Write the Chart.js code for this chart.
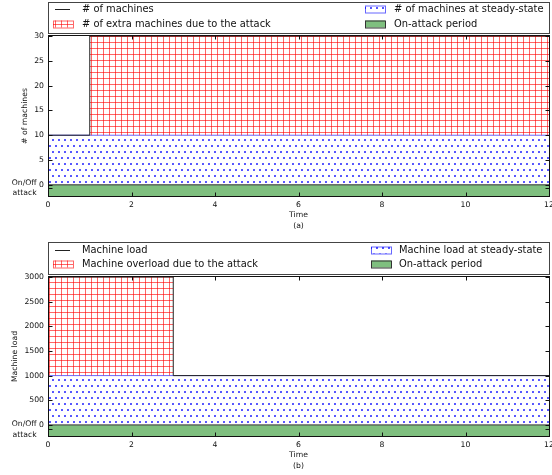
<!DOCTYPE html>
<html>
<head>
<meta charset="utf-8">
<script src="https://cdn.jsdelivr.net/npm/chart.js@4.4.0/dist/chart.umd.min.js"></script>
<style>
  html, body { margin: 0; padding: 0; background: #fff; overflow: hidden; }
  #wrap { position: relative; width: 552px; height: 475px; overflow: hidden; }
  canvas { position: absolute; left: 0; }
  #chartA { top: 0; }
  #chartB { top: 240px; }
</style>
</head>
<body>
<div id="wrap">
  <canvas id="chartA" width="580" height="240"></canvas>
  <canvas id="chartB" width="580" height="235"></canvas>
</div>
<script>
// shared x axis
const xTicks = [0, 2, 4, 6, 8, 10, 12];

// (a) number of machines
const machTime = [0, 1, 12];
const machCount = [10, 30, 30];
const extraTime = [1, 12];
const extraCount = [30, 30];
const extraBase = 10;
const steadyTime = [0, 12];
const steadyCount = [10, 10];
const machYTicks = [0, 5, 10, 15, 20, 25, 30];
const machAttackTick = -0.7;
const labelsA = ['# of machines', '# of extra machines due to the attack',
                 '# of machines at steady-state', 'On-attack period'];

// (b) machine load
const loadTime = [0, 3, 12];
const loadValue = [3000, 1000, 1000];
const overTime = [0, 3];
const overValue = [3000, 3000];
const overBase = 1000;
const steadyLoadTime = [0, 12];
const steadyLoad = [1000, 1000];
const loadYTicks = [0, 500, 1000, 1500, 2000, 2500, 3000];
const loadAttackTick = -90;
const labelsB = ['Machine load', 'Machine overload due to the attack',
                 'Machine load at steady-state', 'On-attack period'];

// attack on for the whole period
const attackTime = [0, 12];
const attackOn = [0, 0];

Chart.defaults.font.family = '"DejaVu Sans"';
const tickFont = { size: 7.7, lineHeight: 1.35 };
const titleFont = { size: 7.7, lineHeight: 1.4 };

function pts(xs, ys) {
  return xs.map((x, i) => ({ x: x, y: ys[i] }));
}

// hatch '+' in red
function gridPattern() {
  const c = document.createElement('canvas');
  c.width = 6; c.height = 6;
  const g = c.getContext('2d');
  g.strokeStyle = 'rgba(255,0,0,0.6)';
  g.lineWidth = 1;
  g.beginPath();
  g.moveTo(1.5, 0); g.lineTo(1.5, 6);
  g.moveTo(0, 0.5); g.lineTo(6, 0.5);
  g.stroke();
  return g.createPattern(c, 'repeat');
}

// hatch '.' in blue (staggered rows)
function dotPattern() {
  const c = document.createElement('canvas');
  c.width = 6; c.height = 12;
  const g = c.getContext('2d');
  g.fillStyle = '#1010ff';
  [[2, 2], [5, 8]].forEach(([x, y]) => {
    g.beginPath();
    g.arc(x, y, 0.95, 0, Math.PI * 2);
    g.fill();
  });
  return g.createPattern(c, 'repeat');
}

const redGrid = gridPattern();
const blueDots = dotPattern();

// frame + inward ticks on all four sides, like the matplotlib axes
const framePlugin = {
  id: 'frame',
  afterDatasetsDraw(chart) {
    const { ctx, chartArea: a, scales: { x, y } } = chart;
    const L = Math.round(a.left) + 0.5, R = Math.round(a.right) + 0.5;
    const T = Math.round(a.top) - 0.5, B = Math.round(a.bottom) + 0.5;
    ctx.save();
    ctx.strokeStyle = '#111';
    ctx.lineWidth = 1;
    ctx.beginPath();
    x.ticks.forEach(t => {
      const px = Math.round(x.getPixelForValue(t.value)) + 0.5;
      ctx.moveTo(px, T); ctx.lineTo(px, T + 4);
      ctx.moveTo(px, B); ctx.lineTo(px, B - 4);
    });
    y.ticks.forEach(t => {
      const py = Math.round(y.getPixelForValue(t.value)) + 0.5;
      ctx.moveTo(L, py); ctx.lineTo(L + 4, py);
      ctx.moveTo(R, py); ctx.lineTo(R - 4, py);
    });
    ctx.stroke();
    ctx.strokeRect(L, T, R - L, B - T);
    ctx.restore();
  }
};

function makeLegend(box) {
  return {
    id: 'boxLegend',
    afterDraw(chart) {
      const { ctx } = chart;
      const ds = chart.data.datasets;
      ctx.save();
      ctx.fillStyle = '#fff';
      ctx.fillRect(box.left, box.top, box.right - box.left, box.bottom - box.top);
      ctx.strokeStyle = '#444';
      ctx.lineWidth = 1;
      ctx.strokeRect(box.left + 0.5, box.top + 0.5, box.right - box.left, box.bottom - box.top);
      ctx.font = '9.9px "DejaVu Sans"';
      ctx.textBaseline = 'middle';
      ds.forEach((d, i) => {
        const col = box.cols[Math.floor(i / 2)];
        const ry = box.rows[i % 2];
        if (d.fill === false) {
          ctx.strokeStyle = d.borderColor;
          ctx.beginPath();
          ctx.moveTo(col.swatch + 2, ry + 0.5);
          ctx.lineTo(col.swatch + 17, ry + 0.5);
          ctx.stroke();
        } else {
          ctx.fillStyle = d.backgroundColor;
          ctx.fillRect(col.swatch, ry - 3.5, 20, 7);
          ctx.strokeStyle = d.borderColor;
          ctx.strokeRect(col.swatch + 0.5, ry - 3, 20, 7);
        }
        ctx.fillStyle = '#111';
        ctx.fillText(d.label, col.text, ry);
      });
      ctx.restore();
    }
  };
}

function makeChart(id, cfg) {
  new Chart(document.getElementById(id), {
    type: 'line',
    data: {
      datasets: [
        { label: cfg.labels[0], data: pts(cfg.lineX, cfg.lineY), stepped: true,
          borderColor: '#222', borderWidth: 1, pointRadius: 0, fill: false },
        { label: cfg.labels[1], data: pts(cfg.overX, cfg.overY),
          borderColor: 'rgba(255,0,0,0.6)', borderWidth: 1, pointRadius: 0,
          backgroundColor: redGrid, fill: { value: cfg.overBase } },
        { label: cfg.labels[2], data: pts(cfg.steadyX, cfg.steadyY),
          borderColor: 'rgba(0,0,255,0.6)', borderWidth: 1, pointRadius: 0,
          backgroundColor: blueDots, fill: { value: 0 } },
        { label: cfg.labels[3], data: pts(attackTime, attackOn),
          borderColor: '#333', borderWidth: 1, pointRadius: 0,
          backgroundColor: '#7fbf7f', fill: 'start' }
      ]
    },
    options: {
      responsive: false,
      animation: false,
      layout: { autoPadding: false, padding: cfg.padding },
      plugins: { legend: { display: false }, tooltip: { enabled: false } },
      scales: {
        x: {
          type: 'linear', min: 0, max: 12,
          afterBuildTicks: s => { s.ticks = xTicks.map(v => ({ value: v })); },
          afterFit: s => { s.height = 35; },
          grid: { display: false, drawTicks: false }, border: { display: false },
          ticks: { font: tickFont, color: '#111', padding: 4, maxRotation: 0, autoSkip: false },
          title: { display: true, text: ['Time', cfg.tag], font: titleFont, color: '#111', padding: 0 }
        },
        y: {
          min: cfg.yMin, max: cfg.yMax,
          afterBuildTicks: s => { s.ticks = [cfg.attackTick].concat(cfg.yTicks).map(v => ({ value: v })); },
          afterFit: s => { s.width = 48; },
          grid: { display: false, drawTicks: false }, border: { display: false },
          ticks: {
            font: tickFont, color: '#111', padding: 4, autoSkip: false,
            callback: v => v === cfg.attackTick ? ['On/Off   ', 'attack   '] : String(v)
          },
          title: { display: true, text: cfg.yTitle, font: titleFont, color: '#111', padding: { top: cfg.yTitlePad } }
        }
      }
    },
    plugins: [framePlugin, makeLegend(cfg.legend)]
  });
}

makeChart('chartA', {
  labels: labelsA, tag: '(a)', yTitle: '# of machines', yTitlePad: 20,
  lineX: machTime, lineY: machCount,
  overX: extraTime, overY: extraCount, overBase: extraBase,
  steadyX: steadyTime, steadyY: steadyCount,
  yMin: -2.25, yMax: 30, yTicks: machYTicks, attackTick: machAttackTick,
  padding: { top: 36, left: 0, right: 31, bottom: 9 },
  legend: { left: 48, right: 549, top: 2, bottom: 33, rows: [9, 24],
            cols: [{ swatch: 53, text: 82 }, { swatch: 365, text: 394 }] }
});

makeChart('chartB', {
  labels: labelsB, tag: '(b)', yTitle: 'Machine load', yTitlePad: 10,
  lineX: loadTime, lineY: loadValue,
  overX: overTime, overY: overValue, overBase: overBase,
  steadyX: steadyLoadTime, steadyY: steadyLoad,
  yMin: -225, yMax: 3000, yTicks: loadYTicks, attackTick: loadAttackTick,
  padding: { top: 37, left: 0, right: 31, bottom: 4 },
  legend: { left: 48, right: 549, top: 2, bottom: 34, rows: [10, 24],
            cols: [{ swatch: 53, text: 82 }, { swatch: 371, text: 399 }] }
});
</script>
</body>
</html>
